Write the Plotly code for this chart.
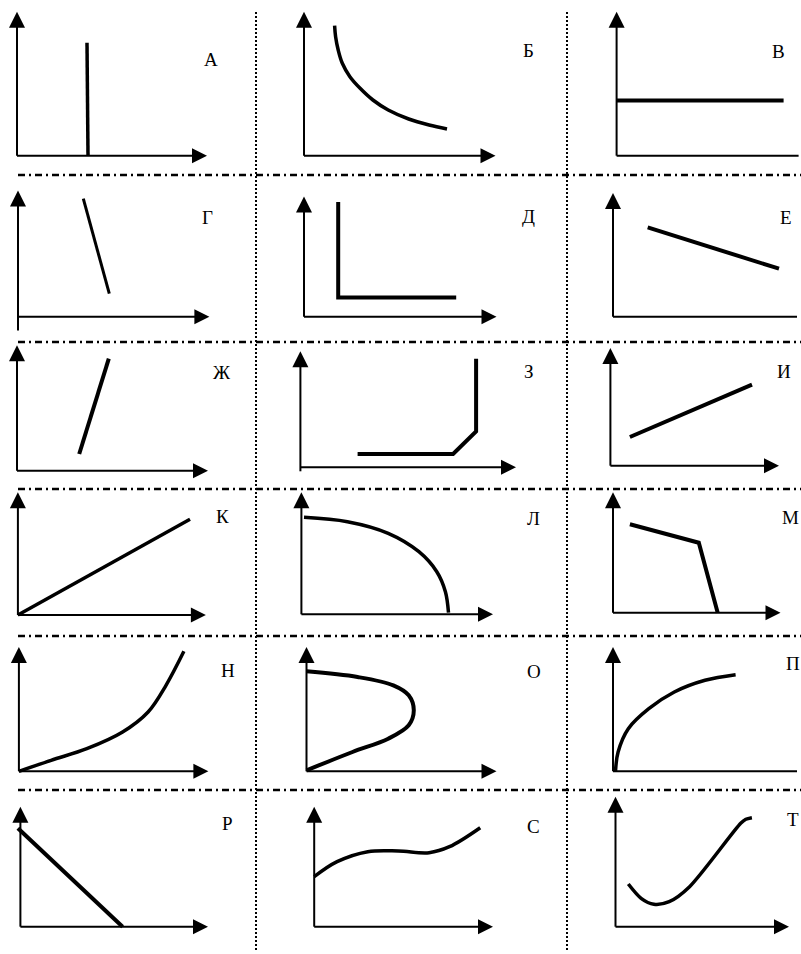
import plotly.graph_objects as go

W, H = 801, 954

# ---------------- data (local units: right / up from each panel's axis origin) -------------
letters = ["А", "Б", "В", "Г", "Д", "Е", "Ж", "З", "И",
           "К", "Л", "М", "Н", "О", "П", "Р", "С", "Т"]

A_x = [70, 71]
A_y = [113, 0]
B_x = [30.6, 31.6, 34.2, 38.3, 45.9, 56.1, 68.9, 84.2, 104.7, 125.1, 143]
B_y = [130, 119, 105.7, 92.4, 79, 67.4, 55.7, 45.7, 36.7, 30.7, 26.7]
V_x = [0, 167]
V_y = [55.3, 55.3]
G_x = [65.3, 91.3]
G_y = [118, 23]
D_x = [34.2, 34.2, 152.2]
D_y = [114.7, 19.3, 19.3]
E_x = [34.7, 166]
E_y = [89.3, 48]
ZH_x = [62.2, 91.8]
ZH_y = [16.7, 112]
Z_x = [57.2, 152.7, 175.7, 175.7]
Z_y = [13.3, 13.3, 36, 108.6]
I_x = [19.5, 141.6]
I_y = [28.7, 81]
K_x = [0, 172.1]
K_y = [0, 95.7]
L_x = [2.6, 46, 86.8, 117.5, 135.4, 144, 147.1]
L_y = [97, 92.6, 81, 62.6, 42.6, 22.6, 1.6]
M_x = [16.9, 85.8, 104.7]
M_y = [88.4, 70, 0]
N_x = [0, 32.2, 67.9, 103.7, 129.2, 147.1, 165]
N_y = [0, 11, 22.6, 39.3, 59.3, 86, 120]
O_x = [0, 51.1, 86.8, 102.2, 107.3, 102.2, 81.7, 46, 0]
O_y = [100, 94.3, 86, 76, 61, 46, 32.6, 19.3, 1]
P_x = [2.5, 5.1, 15.3, 35.8, 61.3, 92, 122.6]
P_y = [0, 19.3, 42.6, 62.6, 79.3, 91, 96.6]
R_x = [-2.5, 102.2]
R_y = [98.4, 0]
S_x = [0, 22.9, 53.6, 84.2, 114.9, 135.3, 166]
S_y = [50, 65, 75, 75.7, 74, 80, 99]
T_x = [12.8, 25.6, 38.4, 53.7, 74.1, 125.2, 130.3, 136.4]
T_y = [42.7, 28.4, 22.4, 25, 40, 103.4, 107.4, 109]

curves_x = [A_x, B_x, V_x, G_x, D_x, E_x, ZH_x, Z_x, I_x,
            K_x, L_x, M_x, N_x, O_x, P_x, R_x, S_x, T_x]
curves_y = [A_y, B_y, V_y, G_y, D_y, E_y, ZH_y, Z_y, I_y,
            K_y, L_y, M_y, N_y, O_y, P_y, R_y, S_y, T_y]

# axis extents of each small graph
axis_top = [144, 144, 144, 126.3, 120.3, 123.7, 125.4, 116, 117.7,
            122.7, 122, 120.4, 124.3, 124.3, 124.3, 120, 120, 130]
axis_bottom = [0, 0, 0, -13.7, 0, 0, 0, -4, 0,
               0, 0, 0, 0, 0, 0, 0, 0, 0]
axis_end = [190, 191.5, 190, 191.4, 192.5, 192, 191, 215.6, 168.6,
            188, 191.6, 167.5, 189.5, 190, 192, 187.6, 178.8, 173.5]

# letter positions (local units)
label_x = [194, 224.5, 162, 189, 224.7, 172.6, 205, 228.3, 173.6,
           205, 232.4, 177.8, 209.4, 227.3, 180, 206.9, 219.6, 177]
label_y = [96.2, 105.7, 104.3, 99.3, 100.3, 99.3, 98.4, 96, 94.4,
           98.3, 96, 95.4, 101, 100, 107.5, 103.4, 100, 107.4]

# ---------------- styles / layout positions ----------------
curve_shape = ["linear", "spline", "linear", "linear", "linear", "linear", "linear", "linear", "linear",
               "linear", "spline", "linear", "spline", "spline", "spline", "linear", "spline", "spline"]
curve_smooth = [1, 1, 1, 1, 1, 1, 1, 1, 1,
                1, 1, 1, 1, 1, 1, 1, 1, 0.8]
curve_width = [3.5, 3.5, 4, 3, 4, 4, 4, 4, 4,
               3.5, 3.5, 4, 3.5, 4, 3.5, 4, 3.5, 3.5]

origins = [(17, 155.7), (304, 155.7), (616.6, 155.7),
           (18, 316.7), (304, 316.7), (613, 316.7),
           (17, 470.7), (300.4, 467.3), (610.4, 465.7),
           (17.9, 615), (301.4, 614.3), (613, 612.7),
           (18.9, 771.3), (306.5, 771.3), (613, 771.3),
           (20.4, 926.7), (314.2, 926.7), (615.5, 926.7)]
col_edges = [0, 256, 567, 801]
row_edges = [0, 175, 342, 489, 636, 790, 954]

fig = go.Figure()
layout = dict(width=W, height=H, margin=dict(l=0, r=0, t=0, b=0),
              paper_bgcolor="white", plot_bgcolor="rgba(0,0,0,0)",
              showlegend=False, hovermode=False)
annotations = []

for i in range(18):
    r, c = divmod(i, 3)
    ox, oy = origins[i]
    bx0, bx1 = col_edges[c], col_edges[c + 1]
    by0, by1 = row_edges[r], row_edges[r + 1]
    sfx = "" if i == 0 else str(i + 1)
    layout["xaxis" + sfx] = dict(domain=[bx0 / W, bx1 / W], range=[bx0 - ox, bx1 - ox],
                                 visible=False, fixedrange=True)
    layout["yaxis" + sfx] = dict(domain=[1 - by1 / H, 1 - by0 / H], range=[oy - by1, oy - by0],
                                 visible=False, fixedrange=True)
    xr, yr = "x" + sfx, "y" + sfx
    common = dict(xaxis=xr, yaxis=yr, cliponaxis=False, hoverinfo="skip")
    # vertical axis with arrow
    fig.add_trace(go.Scatter(x=[0, 0], y=[axis_bottom[i], axis_top[i] - 8], mode="lines",
                             line=dict(color="black", width=2), **common))
    fig.add_trace(go.Scatter(x=[0], y=[axis_top[i]], mode="markers",
                             marker=dict(symbol="arrow-up", size=16, color="black", line=dict(width=0)),
                             **common))
    # horizontal axis with arrow
    fig.add_trace(go.Scatter(x=[0, axis_end[i] - 8], y=[0, 0], mode="lines",
                             line=dict(color="black", width=2), **common))
    fig.add_trace(go.Scatter(x=[axis_end[i]], y=[0], mode="markers",
                             marker=dict(symbol="arrow-right", size=15, color="black", line=dict(width=0)),
                             **common))
    # curve
    fig.add_trace(go.Scatter(x=curves_x[i], y=curves_y[i], mode="lines",
                             line=dict(color="black", width=curve_width[i], shape=curve_shape[i],
                                       smoothing=curve_smooth[i]),
                             **common))
    annotations.append(dict(x=label_x[i], y=label_y[i], xref=xr, yref=yr, text=letters[i],
                            showarrow=False, xanchor="center", yanchor="middle",
                            font=dict(family="Liberation Serif", size=19, color="black")))

shapes = []
for xv in col_edges[1:3]:
    shapes.append(dict(type="line", xref="paper", yref="paper",
                       x0=xv / W, x1=xv / W, y0=1 - 12 / H, y1=1 - 952 / H,
                       line=dict(color="black", width=2, dash="2px,2px")))
for yv in row_edges[1:6]:
    shapes.append(dict(type="line", xref="paper", yref="paper",
                       x0=18 / W, x1=1, y0=1 - yv / H, y1=1 - yv / H,
                       line=dict(color="black", width=2.5, dash="7px,4px,2px,4px")))

layout["annotations"] = annotations
layout["shapes"] = shapes
fig.update_layout(**layout)

fig.write_html("out.html", config={"displayModeBar": False, "staticPlot": True},
               post_script="document.body.style.margin='0';document.body.style.overflow='hidden';")
